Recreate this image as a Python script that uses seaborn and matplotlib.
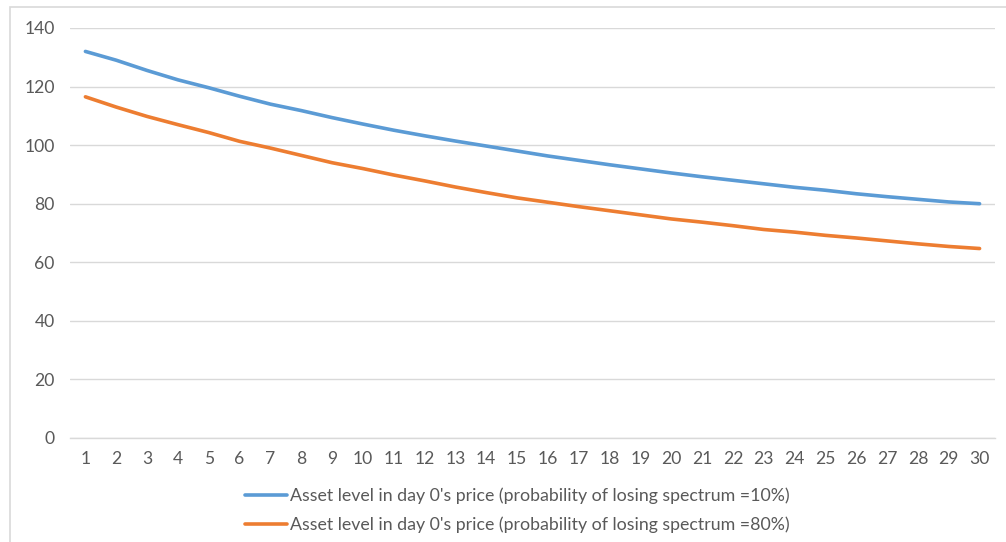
import matplotlib
matplotlib.use("Agg")
import matplotlib.pyplot as plt
from matplotlib.patches import Rectangle
import seaborn as sns
import pandas as pd

days = list(range(1, 31))
blue_vals = [132.0, 129.0, 125.5, 122.3, 119.6, 116.7, 114.0, 111.8, 109.4, 107.2,
             105.1, 103.2, 101.4, 99.7, 98.0, 96.3, 94.8, 93.3, 91.9, 90.5,
             89.2, 88.0, 86.8, 85.6, 84.6, 83.4, 82.4, 81.5, 80.6, 80.0]
orange_vals = [116.5, 113.0, 109.8, 107.0, 104.3, 101.3, 99.0, 96.5, 94.0, 92.0,
               89.8, 87.8, 85.7, 83.8, 82.0, 80.5, 79.0, 77.6, 76.2, 74.8,
               73.7, 72.5, 71.2, 70.3, 69.2, 68.3, 67.3, 66.3, 65.4, 64.7]
labels = ["Asset level in day 0's price (probability of losing spectrum =10%)",
          "Asset level in day 0's price (probability of losing spectrum =80%)"]
yticks = [0, 20, 40, 60, 80, 100, 120, 140]

df = pd.DataFrame({
    "day": days * 2,
    "value": blue_vals + orange_vals,
    "series": [labels[0]] * len(days) + [labels[1]] * len(days),
})

sns.set_theme(style="white")
plt.rcParams["font.family"] = ["Lato", "DejaVu Sans"]

fig = plt.figure(figsize=(10.06, 5.42), dpi=100)
ax = fig.add_axes([70 / 1006, 1 - 438 / 542, 925 / 1006, 410 / 542])

sns.lineplot(data=df, x="day", y="value", hue="series",
             palette=["#5B9BD5", "#ED7D31"], linewidth=2.6, ax=ax, legend=False)

ax.set_xlim(0.5, 30.5)
ax.set_ylim(0, 140)
ax.set_xticks(days)
ax.set_yticks(yticks)
ax.set_xlabel("")
ax.set_ylabel("")
ax.grid(axis="y", color="#d9d9d9", linewidth=1.0)
ax.grid(axis="x", visible=False)
ax.set_axisbelow(True)
for s in ["top", "right", "left"]:
    ax.spines[s].set_visible(False)
ax.spines["bottom"].set_color("#d9d9d9")
ax.spines["bottom"].set_linewidth(1.0)
ax.tick_params(axis="both", length=0, labelsize=12.6, colors="#595959")
ax.tick_params(axis="y", pad=11)
ax.tick_params(axis="x", pad=9)

handles = [plt.Line2D([], [], color=c, linewidth=2.6) for c in ["#5B9BD5", "#ED7D31"]]
leg = fig.legend(handles, labels, loc="center", bbox_to_anchor=(517 / 1006, 1 - 510 / 542),
                 frameon=False, fontsize=12.8, handlelength=2.4, handletextpad=0.15,
                 labelspacing=0.7)
for t in leg.get_texts():
    t.set_color("#595959")

fig.add_artist(Rectangle((10 / 1006, -0.05), 1.1, 1 - 7 / 542 + 0.05,
                         transform=fig.transFigure, fill=False,
                         edgecolor="#d9d9d9", linewidth=1.2, clip_on=False))

fig.savefig("out.png", dpi=100)
